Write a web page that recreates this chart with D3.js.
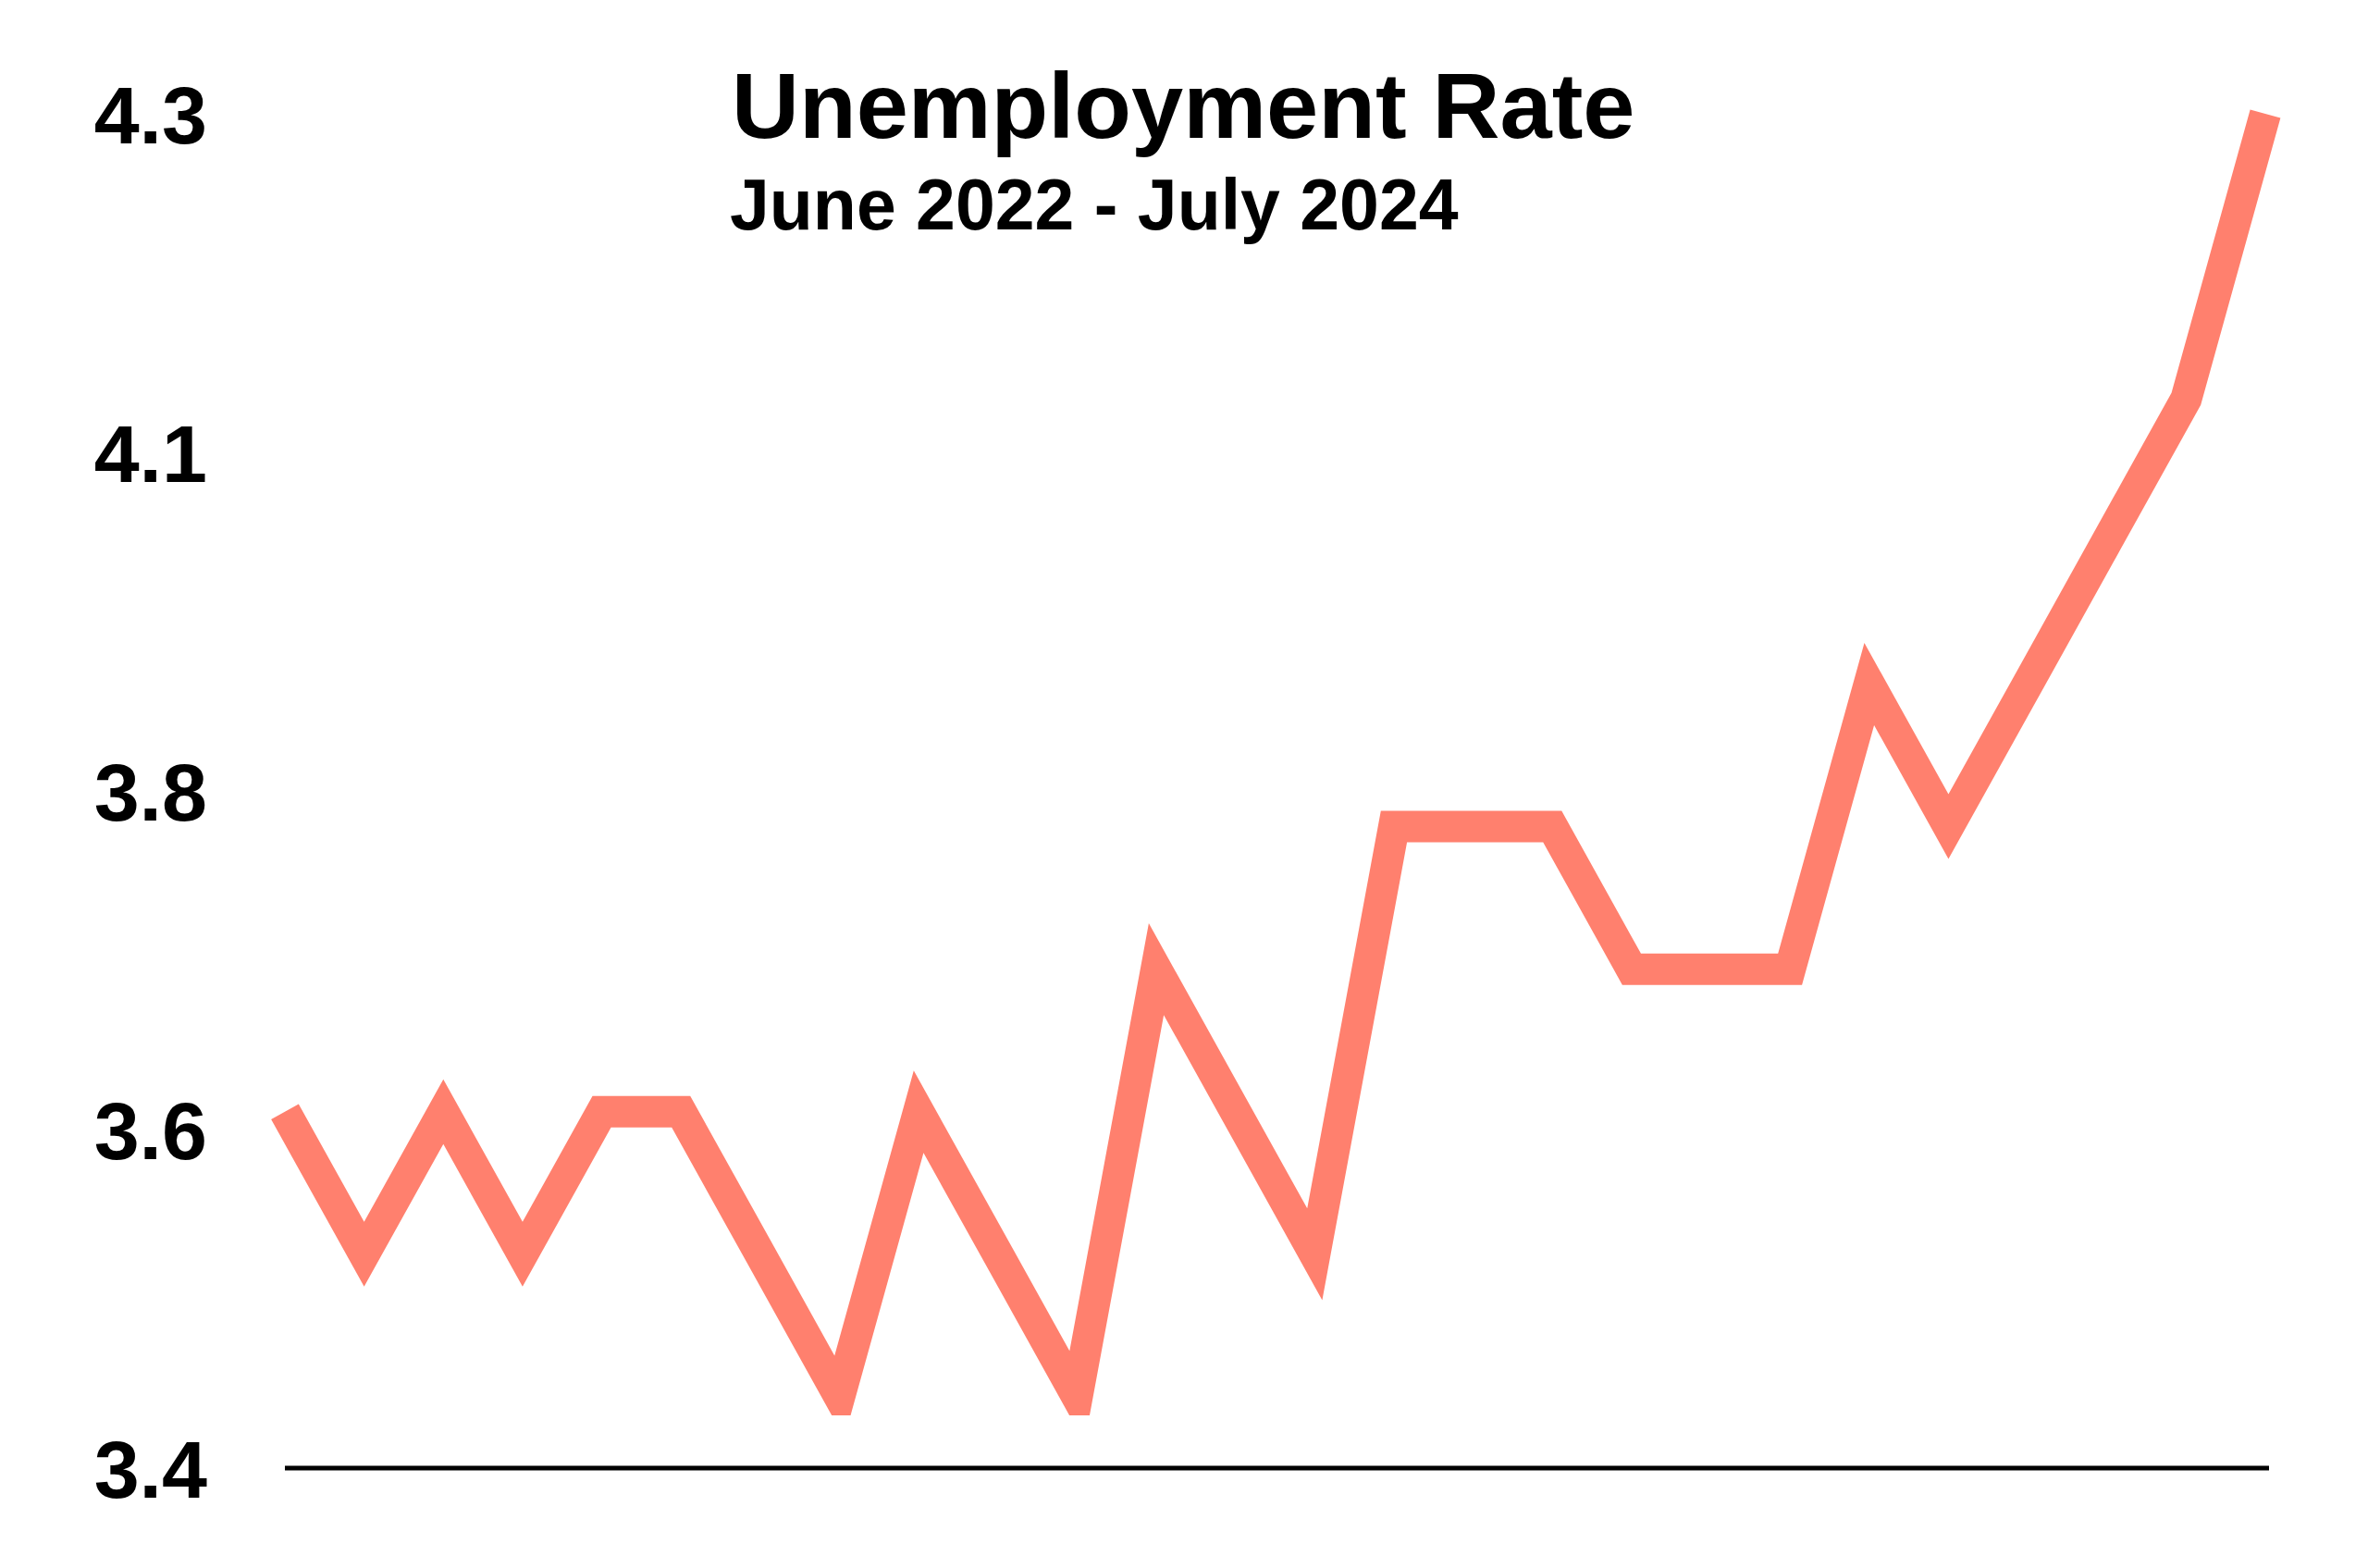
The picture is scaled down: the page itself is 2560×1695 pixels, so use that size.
<!DOCTYPE html>
<html>
<head>
<meta charset="utf-8">
<script src="https://cdn.jsdelivr.net/npm/d3@7"></script>
<style>
  html, body { margin: 0; padding: 0; background: #fff; }
  svg { display: block; font-family: "Liberation Sans", Arial, Helvetica, sans-serif; }
</style>
</head>
<body>
<svg id="chart"></svg>
<script>
// monthly unemployment rate, June 2022 - July 2024
const months = [
  "Jun 2022", "Jul 2022", "Aug 2022", "Sep 2022", "Oct 2022", "Nov 2022", "Dec 2022",
  "Jan 2023", "Feb 2023", "Mar 2023", "Apr 2023", "May 2023", "Jun 2023", "Jul 2023",
  "Aug 2023", "Sep 2023", "Oct 2023", "Nov 2023", "Dec 2023",
  "Jan 2024", "Feb 2024", "Mar 2024", "Apr 2024", "May 2024", "Jun 2024", "Jul 2024"
];
const rates = [
  3.6, 3.5, 3.6, 3.5, 3.6, 3.6, 3.5,
  3.4, 3.6, 3.5, 3.4, 3.7, 3.6, 3.5,
  3.8, 3.8, 3.8, 3.7, 3.7,
  3.7, 3.9, 3.8, 3.9, 4.0, 4.1, 4.3
];

// y axis runs from a bit under the lowest value up to the top value
const yDomain = [3.35, 4.3];
const yTickCount = 5;

const title = "Unemployment Rate";
const subtitle = "June 2022 - July 2024";

// page size
const width = 2560;
const height = 1695;

const svg = d3.select("#chart")
    .attr("width", width)
    .attr("height", height)
    .attr("viewBox", [0, 0, width, height]);

const x = d3.scalePoint()
    .domain(months)
    .range([308, 2449]);

const y = d3.scaleLinear()
    .domain(yDomain)
    .range([1587, 123]);

// evenly spaced ticks over the domain, rounded to one decimal
const yTicks = d3.range(yTickCount).map(i => yDomain[0] + i * (yDomain[1] - yDomain[0]) / (yTickCount - 1));

// y labels only, no line and no ticks
const yAxis = svg.append("g")
    .attr("transform", `translate(${x.range()[0]},0)`)
    .call(d3.axisLeft(y)
        .tickValues(yTicks)
        .tickFormat(d3.format(".1f"))
        .tickSize(0)
        .tickPadding(84));
yAxis.select(".domain").remove();
yAxis.selectAll("text")
    .attr("dy", "0.36em")
    .attr("fill", "#000")
    .style("font-size", "88px")
    .style("font-weight", "bold")
    .style("font-family", "'Liberation Sans', Arial, Helvetica, sans-serif");

// baseline
const xAxis = svg.append("g")
    .attr("transform", `translate(0,${y.range()[0]})`)
    .call(d3.axisBottom(x).tickValues([]).tickSizeOuter(0));
xAxis.select(".domain")
    .attr("stroke", "#000")
    .attr("stroke-width", 5)
    .attr("d", `M${x.range()[0]},0H${x.range()[1] + 4}`);

// plot area clip - the lowest dips get cut flat
const clipBottom = y(d3.min(rates)) + 20;
svg.append("clipPath")
    .attr("id", "plot-clip")
  .append("rect")
    .attr("x", 0)
    .attr("y", 0)
    .attr("width", width)
    .attr("height", clipBottom);

// the line itself
const line = d3.line()
    .x((d, i) => x(months[i]))
    .y(d => y(d));

svg.append("path")
    .datum(rates)
    .attr("clip-path", "url(#plot-clip)")
    .attr("fill", "none")
    .attr("stroke", "#ff806e")
    .attr("stroke-width", 34)
    .attr("stroke-linejoin", "miter")
    .attr("stroke-miterlimit", 10)
    .attr("stroke-linecap", "butt")
    .attr("d", line);

// titles
svg.append("text")
    .attr("x", 791)
    .attr("y", 149)
    .attr("fill", "#000")
    .style("font-size", "101px")
    .style("font-weight", "bold")
    .text(title);

svg.append("text")
    .attr("x", 789)
    .attr("y", 248)
    .attr("fill", "#000")
    .style("font-size", "77px")
    .style("font-weight", "bold")
    .text(subtitle);
</script>
</body>
</html>
